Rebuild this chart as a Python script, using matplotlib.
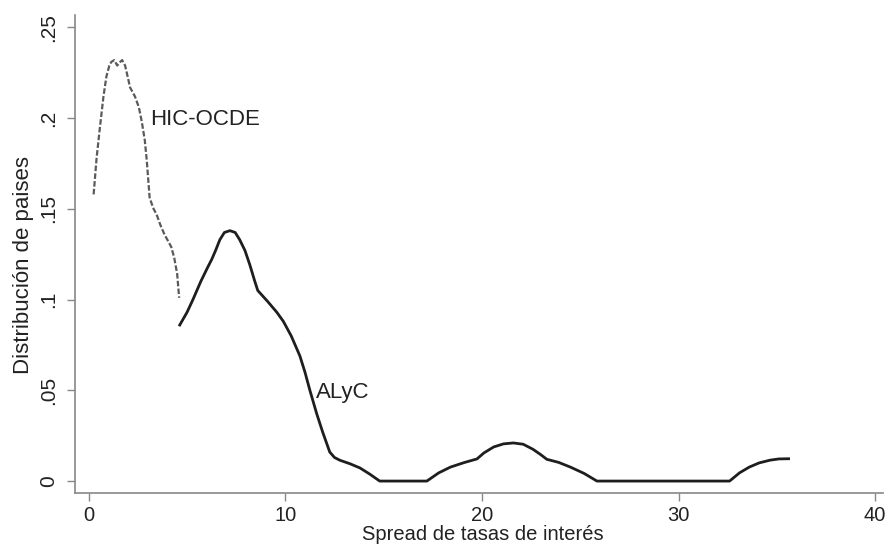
import matplotlib.pyplot as plt
from matplotlib.ticker import FixedLocator

plt.rcParams['font.family'] = ['Liberation Sans', 'DejaVu Sans']

# HIC-OCDE (dashed)
hic_x = [0.25, 0.4, 0.56, 0.75, 0.9, 1.05, 1.15, 1.3, 1.45, 1.6, 1.7, 1.85, 2.0, 2.1, 2.35, 2.55,
         2.7, 2.85, 2.95, 3.1, 3.3, 3.45, 3.65, 3.85, 4.05, 4.2, 4.35, 4.5, 4.6]
hic_y = [0.158, 0.178, 0.194, 0.212, 0.223, 0.229, 0.231, 0.232, 0.229, 0.231, 0.232, 0.229,
         0.222, 0.217, 0.212, 0.206, 0.198, 0.188, 0.177, 0.156, 0.150, 0.147, 0.141, 0.136,
         0.132, 0.129, 0.123, 0.114, 0.101]

# ALyC (solid)
alyc_x = [4.63, 5.0, 5.3, 5.7, 6.06, 6.25, 6.45, 6.67, 6.9, 7.18, 7.45, 7.68, 7.95, 8.2, 8.45,
          8.6, 9.1, 9.57, 9.9, 10.3, 10.74, 11.0, 11.25, 11.6, 11.9, 12.26, 12.5, 12.77, 13.3,
          13.8, 14.3, 14.8, 17.2, 17.8, 18.4, 19.1, 19.75, 20.1, 20.6, 21.1, 21.6, 22.1, 22.6,
          23.0, 23.3, 23.9, 24.5, 25.2, 25.85, 32.6, 33.1, 33.6, 34.1, 34.65, 35.1, 35.6]
alyc_y = [0.086, 0.093, 0.100, 0.110, 0.118, 0.122, 0.127, 0.133, 0.137, 0.138, 0.137, 0.133,
          0.127, 0.119, 0.110, 0.105, 0.099, 0.093, 0.088, 0.080, 0.069, 0.060, 0.050, 0.037,
          0.027, 0.016, 0.013, 0.0115, 0.0095, 0.0072, 0.0038, 0.0, 0.0, 0.0045, 0.0077,
          0.0102, 0.0122, 0.0155, 0.0188, 0.0205, 0.021, 0.0203, 0.0175, 0.0145, 0.012, 0.0103,
          0.0077, 0.0042, 0.0, 0.0, 0.0045, 0.0077, 0.0100, 0.0115, 0.0122, 0.0123]

x_ticks = [0, 10, 20, 30, 40]
y_ticks = [0, 0.05, 0.1, 0.15, 0.2, 0.25]
y_labels = ['0', '.05', '.1', '.15', '.2', '.25']

fig = plt.figure(figsize=(8.85, 5.46), dpi=100)
ax = fig.add_axes([0.0847, 0.097, 0.913, 0.876])

ax.plot(hic_x, hic_y, color='#5a5a5a', lw=1.6, linestyle=(0, (2.5, 1.0)))
ax.plot(alyc_x, alyc_y, color='#1e1e1e', lw=2.0)

ax.text(3.1, 0.199, 'HIC-OCDE', fontsize=16, color='#222222', va='center', ha='left')
ax.text(11.55, 0.049, 'ALyC', fontsize=16, color='#222222', va='center', ha='left')

ax.set_xlim(-0.7, 40.4)
ax.set_ylim(-0.0066, 0.257)
ax.xaxis.set_major_locator(FixedLocator(x_ticks))
ax.set_yticks(y_ticks)
ax.set_yticklabels(y_labels, rotation=90, va='center')
ax.tick_params(axis='both', labelsize=15, labelcolor='#222222', length=6, width=1,
               color='#888888', direction='out')
ax.tick_params(axis='x', labelsize=14.5, pad=3)
ax.tick_params(axis='y', pad=6)

for s in ['top', 'right']:
    ax.spines[s].set_visible(False)
for s in ['left', 'bottom']:
    ax.spines[s].set_color('#888888')
    ax.spines[s].set_linewidth(1.2)

ax.set_xlabel('Spread de tasas de interés', fontsize=14.5, color='#222222')
ax.set_ylabel('Distribución de paises', fontsize=16, color='#222222')
ax.xaxis.set_label_coords(0.505, -0.066)
ax.yaxis.set_label_coords(-0.051, 0.477)

fig.savefig('out.png', dpi=100)
